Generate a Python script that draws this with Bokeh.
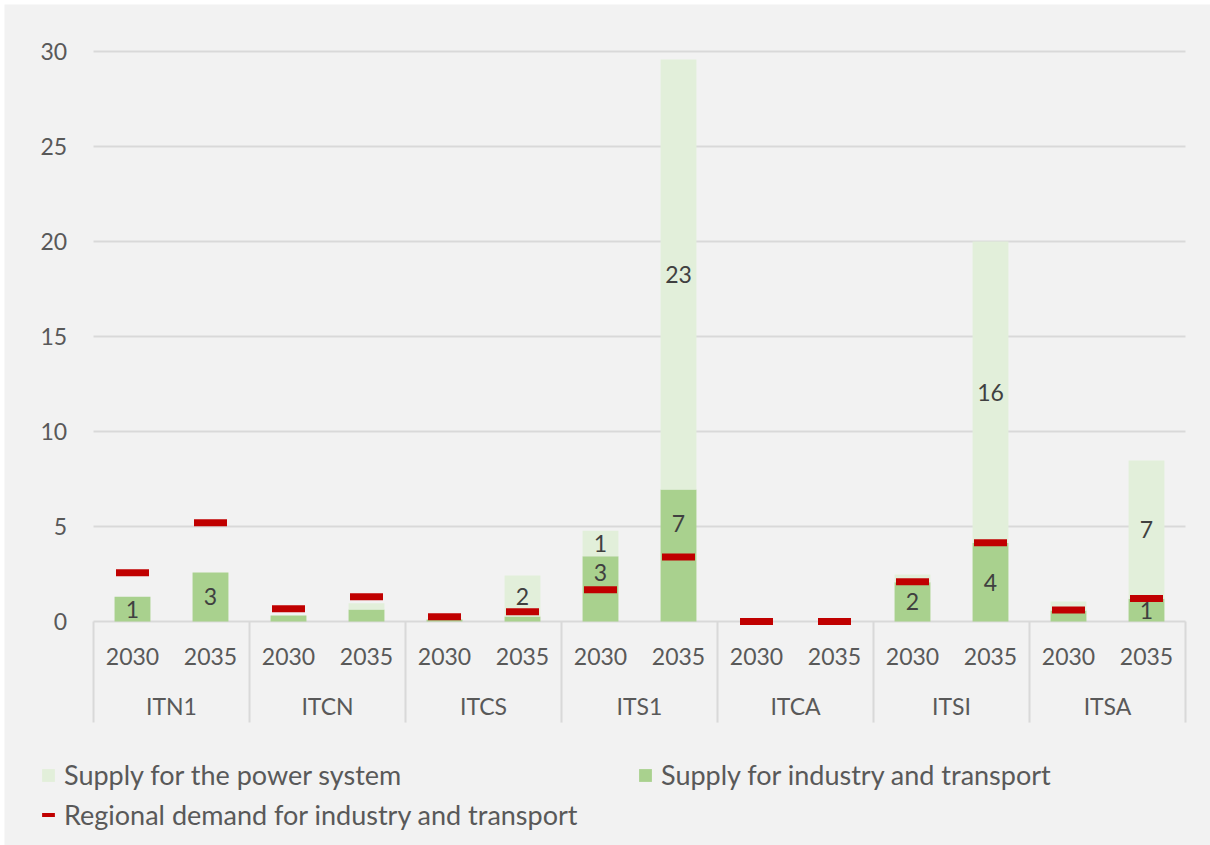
from bokeh.plotting import figure
from bokeh.models import ColumnDataSource, Range1d, Legend, LegendItem
from bokeh.core.properties import value
from bokeh.embed import file_html
from bokeh.resources import INLINE

regions = ["ITN1", "ITCN", "ITCS", "ITS1", "ITCA", "ITSI", "ITSA"]
years = ["2030", "2035"]
industry = [1.30, 2.58, 0.32, 0.63, 0.10, 0.26, 3.44, 6.95, 0.0, 0.0, 2.07, 4.13, 0.58, 1.20]
power = [0.0, 0.0, 0.0, 0.33, 0.0, 2.16, 1.33, 22.63, 0.0, 0.0, 0.40, 15.87, 0.47, 7.27]
demand = [2.56, 5.20, 0.67, 1.30, 0.25, 0.51, 1.67, 3.40, 0.0, 0.0, 2.09, 4.15, 0.61, 1.21]
y_ticks = [0, 5, 10, 15, 20, 25, 30]

FONT = "Lato"
LIGHT = "#e2efda"
DARK = "#a9d18e"
RED = "#c00000"
GRID = "#d9d9d9"
BG = "#f2f2f2"
AXC = "#595959"

n = len(regions) * len(years)
xs = list(range(n))
year_lab = [years[i % len(years)] for i in range(n)]
total = [a + b for a, b in zip(industry, power)]

src = ColumnDataSource(dict(x=xs, ind=industry, pw=power, tot=total, dem=demand, yr=year_lab))

# 78 px per category, 19 px per unit; plot area from x=93..1185, y(30)=51, y(0)=621
p = figure(width=1210, height=845, output_backend="svg", toolbar_location=None,
           x_range=Range1d(-1.641, 13.8205), y_range=Range1d(-11.7895, 32.4737),
           x_axis_location=None, y_axis_location=None,
           min_border_left=4, min_border_right=0, min_border_top=4, min_border_bottom=0)
p.background_fill_color = BG
p.border_fill_color = "white"
p.outline_line_color = None
p.grid.grid_line_color = None

# gridlines and y labels
x_lo, x_hi = -0.5, n - 0.5
p.segment(x0=[x_lo] * len(y_ticks), x1=[x_hi] * len(y_ticks), y0=y_ticks, y1=y_ticks,
          line_color=GRID, line_width=2)
p.text(x=[x_lo - 0.337] * len(y_ticks), y=y_ticks, text=[str(t) for t in y_ticks],
       text_align="right", text_baseline="middle",
       text_font=value(FONT), text_font_size="23px", text_color=AXC)

# bars
r_ind = p.vbar(x="x", top="ind", bottom=0, width=0.46, source=src,
               fill_color=DARK, line_color=None)
r_pw = p.vbar(x="x", top="tot", bottom="ind", width=0.46, source=src,
              fill_color=LIGHT, line_color=None)
r_dem = p.rect(x="x", y="dem", width=0.423, height=7, height_units="screen", source=src,
               fill_color=RED, line_color=None)

# data labels (values >= 1); industry label centred on the part above regional demand
lx, ly, lt = [], [], []
for i in range(n):
    if industry[i] >= 1:
        lo = demand[i] if demand[i] < industry[i] else 0
        lx.append(i); ly.append((lo + industry[i]) / 2); lt.append(str(round(industry[i])))
    if power[i] >= 1:
        lx.append(i); ly.append(industry[i] + power[i] / 2); lt.append(str(round(power[i])))
p.text(x=lx, y=ly, text=lt, text_align="center", text_baseline="middle",
       text_font=value(FONT), text_font_size="23px", text_color="#404040")

# category axis drawn in data space
p.text(x="x", y=-1.84, text="yr", source=src, text_align="center", text_baseline="middle",
       text_font=value(FONT), text_font_size="23px", text_color=AXC)
gx = [len(years) * g + (len(years) - 1) / 2 for g in range(len(regions))]
p.text(x=gx, y=[-4.47] * len(regions), text=regions, text_align="center", text_baseline="middle",
       text_font=value(FONT), text_font_size="23px", text_color=AXC)
bx = [len(years) * g - 0.5 for g in range(len(regions) + 1)]
p.segment(x0=bx, x1=bx, y0=[0] * len(bx), y1=[-5.32] * len(bx), line_color=GRID, line_width=2)

def mk_legend(items, loc, gh=16):
    lg = Legend(items=items, location=loc, orientation="vertical",
                label_text_font=FONT, label_text_font_size="27px", label_text_color=AXC,
                glyph_width=16, glyph_height=gh, label_standoff=8,
                spacing=8, padding=0, margin=0, background_fill_alpha=0,
                border_line_color=None)
    p.add_layout(lg)

mk_legend([LegendItem(label="Supply for the power system", renderers=[r_pw])], (36, 54))
mk_legend([LegendItem(label="Regional demand for industry and transport", renderers=[r_dem])],
          (36, 14), gh=5)
mk_legend([LegendItem(label="Supply for industry and transport", renderers=[r_ind])], (633, 54))

open("out.html", "w").write(file_html(p, INLINE))
